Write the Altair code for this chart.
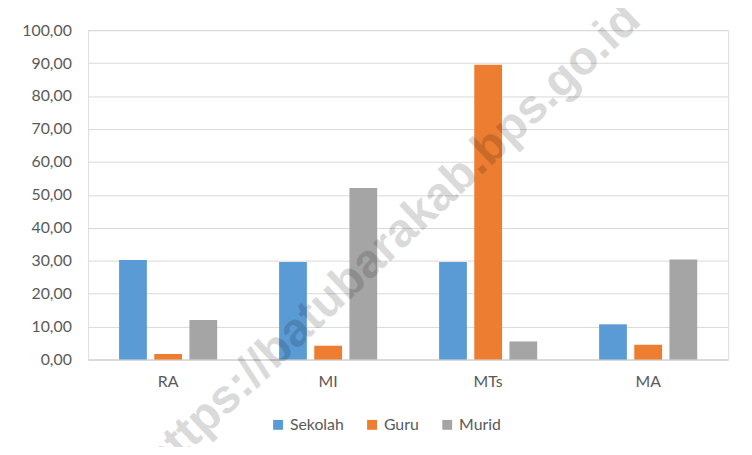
import altair as alt
import pandas as pd

kategori = ["RA", "MI", "MTs", "MA"]
seri = ["Sekolah", "Guru", "Murid"]
sekolah = [30.2, 29.6, 29.6, 10.7]
guru = [1.7, 4.2, 89.5, 4.5]
murid = [12.0, 52.1, 5.5, 30.4]
warna = ["#5B9BD5", "#ED7D31", "#A5A5A5"]
y_ticks = [0, 10, 20, 30, 40, 50, 60, 70, 80, 90, 100]
watermark = "https://batubarakab.bps.go.id"

rows = []
for s, vals in zip(seri, [sekolah, guru, murid]):
    for k, v in zip(kategori, vals):
        rows.append({"Kategori": k, "Seri": s, "Nilai": v})
df = pd.DataFrame(rows)

FONT = "Lato"
TXT = "#595959"

bars = alt.Chart(df).mark_bar().encode(
    x=alt.X("Kategori:N", sort=kategori,
            scale=alt.Scale(paddingInner=0, paddingOuter=0),
            axis=alt.Axis(title=None, labelAngle=0, ticks=False, domain=True,
                          domainColor="#d0d0d0", labelPadding=14,
                          labelFontSize=16, labelColor=TXT, labelFont=FONT)),
    xOffset=alt.XOffset("Seri:N", sort=seri,
                        scale=alt.Scale(paddingInner=0.21, paddingOuter=0.88)),
    y=alt.Y("Nilai:Q", scale=alt.Scale(domain=[0, 100], nice=False),
            axis=alt.Axis(title=None, values=y_ticks, ticks=False, domain=False,
                          labelExpr="replace(format(datum.value, '.2f'), '.', ',')",
                          labelPadding=17, labelFontSize=16, labelColor=TXT,
                          labelFont=FONT, gridColor="#d9d9d9", gridWidth=1)),
    color=alt.Color("Seri:N", sort=seri,
                    scale=alt.Scale(domain=seri, range=warna),
                    legend=alt.Legend(title=None, orient="none", legendX=184, legendY=391,
                                      direction="horizontal", symbolType="square",
                                      symbolSize=100, symbolStrokeWidth=0,
                                      labelFontSize=16, labelColor=TXT, labelFont=FONT,
                                      columnPadding=20, labelOffset=4)),
)

wm = alt.Chart(pd.DataFrame({"t": [watermark]})).mark_text(
    angle=316.6, fontSize=48, fontWeight="bold", font="Liberation Sans",
    color="#000000", opacity=0.14, align="center", baseline="middle"
).encode(text="t:N", x=alt.value(307), y=alt.value(213))

chart = alt.layer(bars, wm).properties(
    width=647, height=333,
    autosize=alt.AutoSizeParams(type="none"),
    padding={"left": 81, "top": 20, "right": 16, "bottom": 86},
).configure_view(stroke=None).configure(background="white")

chart.save("out.html", embed_options={"renderer": "svg", "actions": False})
